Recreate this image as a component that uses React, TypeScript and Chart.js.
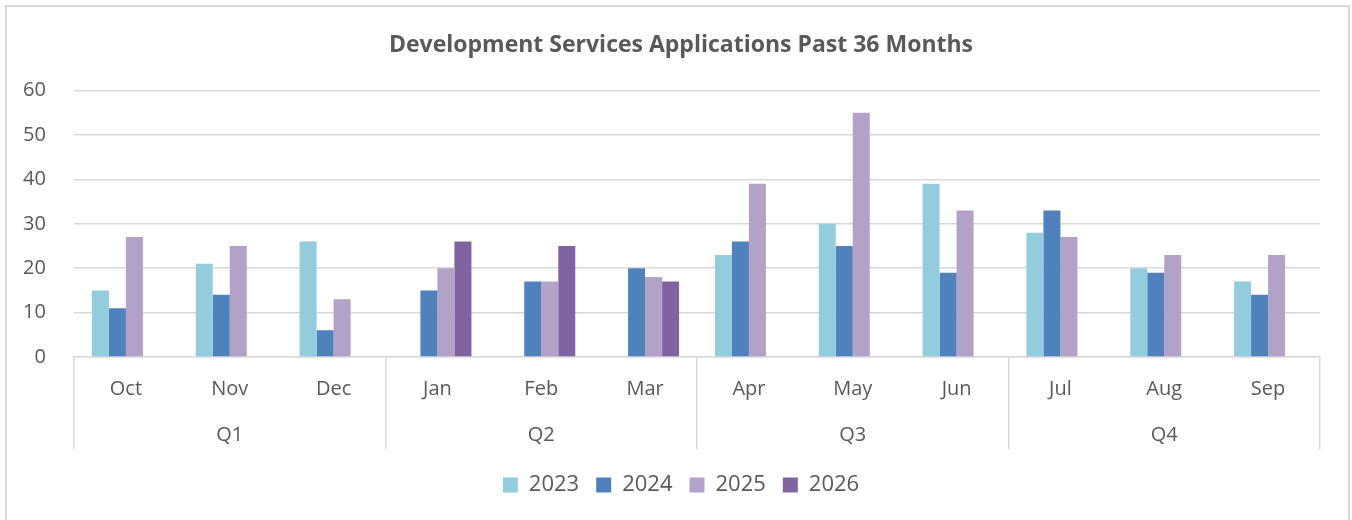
import React, { useEffect, useRef } from "react";
import { Chart, registerables } from "chart.js";

Chart.register(...registerables);

const titleText = "Development Services Applications Past 36 Months";
const months = ["Oct", "Nov", "Dec", "Jan", "Feb", "Mar", "Apr", "May", "Jun", "Jul", "Aug", "Sep"];
const quarters = ["Q1", "Q2", "Q3", "Q4"];
const seriesNames = ["2023", "2024", "2025", "2026"];
const values2023 = [15, 21, 26, null, null, null, 23, 30, 39, 28, 20, 17];
const values2024 = [11, 14, 6, 15, 17, 20, 26, 25, 19, 33, 19, 14];
const values2025 = [27, 25, 13, 20, 17, 18, 39, 55, 33, 27, 23, 23];
const values2026 = [null, null, null, 26, 25, 17, null, null, null, null, null, null];
const yTicks = [0, 10, 20, 30, 40, 50, 60];
const seriesColors = ["#93CDDD", "#4F81BD", "#B2A2C7", "#8064A2"];

const GRID = "#d9d9d9";
const TEXT = "#595959";
const FONT = "'Open Sans', 'Noto Sans', sans-serif";

export default function App() {
  const canvasRef = useRef<HTMLCanvasElement | null>(null);

  useEffect(() => {
    const canvas = canvasRef.current;
    if (!canvas) return;
    const seriesValues = [values2023, values2024, values2025, values2026];
    const chart = new Chart(canvas, {
      type: "bar",
      data: {
        labels: months,
        datasets: seriesNames.map((name, i) => ({
          label: name,
          data: seriesValues[i] as any,
          backgroundColor: seriesColors[i],
          borderWidth: 0,
          xAxisID: "x",
          yAxisID: "y",
          categoryPercentage: 0.655,
          barPercentage: 1,
        })),
      },
      options: {
        animation: false,
        responsive: false,
        maintainAspectRatio: false,
        layout: { padding: { left: 42, right: 32, top: 0, bottom: 14 } },
        plugins: {
          title: {
            display: true,
            text: titleText,
            color: TEXT,
            font: { family: FONT, size: 23, weight: "bold" },
            padding: { top: 32, bottom: 31 },
          },
          legend: {
            display: true,
            position: "bottom",
            labels: {
              color: TEXT,
              font: { family: FONT, size: 22 },
              boxWidth: 15,
              boxHeight: 15,
              padding: 17,
            },
          },
          tooltip: { enabled: false },
        },
        scales: {
          x: {
            type: "category",
            position: "bottom",
            offset: true,
            weight: 0,
            grid: {
              offset: true,
              drawOnChartArea: false,
              drawTicks: true,
              tickLength: 46,
              lineWidth: 1.5,
              color: (ctx: any) =>
                ctx.type !== "tick" || ctx.index % 3 === 0 ? GRID : "rgba(0,0,0,0)",
            },
            border: { display: true, color: GRID, width: 1.5 },
            ticks: {
              color: TEXT,
              font: { family: FONT, size: 20 },
              padding: -26,
              autoSkip: false,
              maxRotation: 0,
            },
            afterFit: (s: any) => {
              s.height = 46;
            },
          },
          q: {
            type: "category",
            labels: quarters,
            position: "bottom",
            offset: true,
            weight: 1,
            grid: {
              offset: true,
              drawOnChartArea: false,
              drawTicks: true,
              tickLength: 46,
              lineWidth: 1.5,
              color: GRID,
            },
            border: { display: false },
            ticks: {
              color: TEXT,
              font: { family: FONT, size: 20 },
              padding: -26,
              autoSkip: false,
              maxRotation: 0,
            },
            afterFit: (s: any) => {
              s.height = 54;
            },
          },
          y: {
            type: "linear",
            min: 0,
            max: 60,
            grid: { color: GRID, lineWidth: 1.5, drawTicks: false },
            border: { display: false },
            ticks: {
              stepSize: 10,
              color: TEXT,
              font: { family: FONT, size: 20 },
              mirror: true,
              crossAlign: "far",
              padding: -51,
            },
            afterBuildTicks: (s: any) => {
              s.ticks = yTicks.map((v) => ({ value: v }));
            },
            afterFit: (s: any) => {
              s.width = 32;
            },
          },
        },
      } as any,
    });
    return () => chart.destroy();
  }, []);

  return (
    <div style={{ position: "absolute", left: 0, top: 0, width: 1352, height: 520, overflow: "hidden", background: "#fff" }}>
      <div
        style={{
          position: "absolute",
          left: 5,
          top: 5,
          width: 1345,
          height: 540,
          border: "2px solid #d9d9d9",
          boxSizing: "border-box",
        }}
      />
      <canvas
        ref={canvasRef}
        width={1352}
        height={520}
        style={{ position: "absolute", left: 0, top: 0, width: 1352, height: 520 }}
      />
    </div>
  );
}
